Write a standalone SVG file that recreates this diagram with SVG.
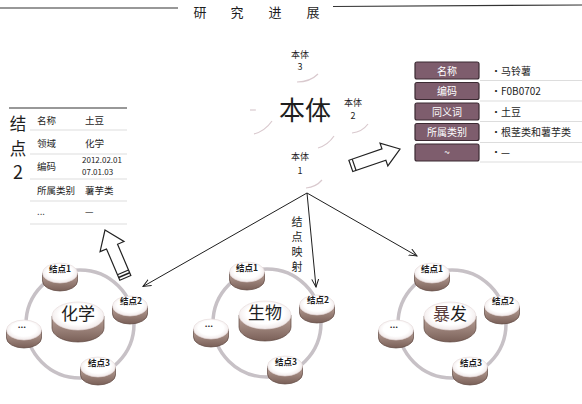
<svg xmlns="http://www.w3.org/2000/svg" xmlns:xlink="http://www.w3.org/1999/xlink" width="582" height="404" viewBox="0 0 582 404">
<style>
text{font-family:"Noto Sans CJK SC","Noto Sans",sans-serif;fill:#1e1e1e}
.t{font-size:13px}
.sm{font-size:9px}
.nl{font-size:8.5px;font-weight:bold;text-anchor:middle}
.big{font-size:17px;text-anchor:middle}
.lab{font-size:10px;fill:#fff;text-anchor:middle}
.val{font-size:10px}
.tb{font-size:9.5px}
.row{stroke:#d4d4d4;stroke-width:0.8}
.faint{fill:none;stroke:#d9c9ce;stroke-width:1.2}
.ring{fill:none;stroke:#c7c1c6;stroke-width:3.5}
.conn{stroke:#1e1e1e;stroke-width:1;fill:none}
.blk{fill:#fff;stroke:#222;stroke-width:1.2;stroke-linejoin:miter}
.box{fill:#7e5d6d;stroke:#3b2a32;stroke-width:1.2}
</style>
<defs>
<radialGradient id="topG" cx="0.5" cy="0.45" r="0.6">
<stop offset="0.6" stop-color="#ffffff"/>
<stop offset="1" stop-color="#ece2e2"/>
</radialGradient>
<linearGradient id="sideG" x1="0" y1="0" x2="0" y2="1">
<stop offset="0" stop-color="#bba39a"/>
<stop offset="1" stop-color="#7a6058"/>
</linearGradient>
<g id="smallDisk">
<path d="M-17.5,0 L-17.5,8 A17.5 10 0 0 0 17.5,8 L17.5,0 Z" fill="url(#sideG)" stroke="#5e4840" stroke-width="0.7"/>
<ellipse cx="0" cy="0" rx="17.5" ry="10" fill="url(#topG)" stroke="#e4d8d8" stroke-width="0.6"/>
</g>
<g id="bigDisk">
<path d="M-26,0 L-26,12 A26 14 0 0 0 26,12 L26,0 Z" fill="url(#sideG)" stroke="#5e4840" stroke-width="0.7"/>
<ellipse cx="0" cy="0" rx="26" ry="14" fill="url(#topG)" stroke="#e4d8d8" stroke-width="0.6"/>
</g>
<marker id="arr" markerWidth="9" markerHeight="8" refX="8" refY="4" orient="auto" markerUnits="userSpaceOnUse">
<path d="M0,0.5 L8,4 L0,7.5" fill="none" stroke="#1e1e1e" stroke-width="1"/>
</marker>
</defs>
<rect width="582" height="404" fill="#ffffff"/>

<g id="title">
<line x1="0" y1="8" x2="178" y2="8" stroke="#333" stroke-width="1.2"/>
<line x1="333" y1="6.5" x2="582" y2="5" stroke="#333" stroke-width="1.2"/>
<text class="t" x="200" y="17" text-anchor="middle">研</text>
<text class="t" x="237" y="17" text-anchor="middle">究</text>
<text class="t" x="275" y="17" text-anchor="middle">进</text>
<text class="t" x="313" y="17" text-anchor="middle">展</text>
</g>

<g id="ontology">
<path class="faint" d="M297 82 Q310 82 318 74"/>
<path class="faint" d="M250 110 L256 110"/>
<path class="faint" d="M254 134 Q265 131 272 121"/>
<path class="faint" d="M318 148 Q328 145 334 136"/>
<path class="faint" d="M352 133 Q362 132 368 124"/>
<path class="faint" d="M306 188 Q316 187 322 180"/>
<text x="300" y="58" class="sm" text-anchor="middle">本体</text>
<text x="300" y="70" class="sm" text-anchor="middle">3</text>
<text x="305" y="120" font-size="26" text-anchor="middle">本体</text>
<text x="353" y="106" class="sm" text-anchor="middle">本体</text>
<text x="353" y="119" class="sm" text-anchor="middle">2</text>
<text x="300" y="160" class="sm" text-anchor="middle">本体</text>
<text x="300" y="174" class="sm" text-anchor="middle">1</text>
</g>

<g id="attr-table">
<line x1="480" y1="80.5" x2="582" y2="80.5" class="row"/>
<line x1="480" y1="101" x2="582" y2="101" class="row"/>
<line x1="480" y1="121.5" x2="582" y2="121.5" class="row"/>
<line x1="480" y1="142.5" x2="582" y2="142.5" class="row"/>
<line x1="480" y1="162" x2="582" y2="162" class="row"/>
<rect class="box" x="415" y="62" width="64" height="17" rx="2"/>
<rect class="box" x="415" y="82.5" width="64" height="17" rx="2"/>
<rect class="box" x="415" y="103" width="64" height="17" rx="2"/>
<rect class="box" x="415" y="123.5" width="64" height="17" rx="2"/>
<rect class="box" x="415" y="144" width="64" height="17" rx="2"/>
<text class="lab" x="447" y="74.5">名称</text>
<text class="lab" x="447" y="95">编码</text>
<text class="lab" x="447" y="115.5">同义词</text>
<text class="lab" x="447" y="136">所属类别</text>
<text class="lab" x="447" y="156">~</text>
<text class="val" x="491" y="74.5">•马铃薯</text>
<text class="val" x="491" y="95">•F0B0702</text>
<text class="val" x="491" y="115.5">•土豆</text>
<text class="val" x="491" y="136">•根茎类和薯芋类</text>
<text class="val" x="491" y="156">•—</text>
</g>

<g id="node2-table">
<line x1="9" y1="108" x2="127" y2="108" stroke="#333" stroke-width="1.2"/>
<line x1="30" y1="130" x2="127" y2="130" class="row"/>
<line x1="30" y1="154" x2="127" y2="154" class="row"/>
<line x1="30" y1="179" x2="127" y2="179" class="row"/>
<line x1="30" y1="201" x2="127" y2="201" class="row"/>
<line x1="30" y1="224" x2="127" y2="224" class="row"/>
<text font-size="16.5" text-anchor="middle"><tspan x="18" y="130">结</tspan><tspan x="18" y="154.5">点</tspan><tspan x="18" y="179" font-size="18">2</tspan></text>
<text class="tb" x="37" y="124">名称</text>
<text class="tb" x="85" y="124">土豆</text>
<text class="tb" x="37" y="147">领域</text>
<text class="tb" x="85" y="147">化学</text>
<text class="tb" x="37" y="170">编码</text>
<text x="82" y="163" font-size="8">2012.02.01</text>
<text x="82" y="175" font-size="8">07.01.03</text>
<text class="tb" x="37" y="194">所属类别</text>
<text class="tb" x="85" y="194">薯芋类</text>
<text class="tb" x="37" y="215">...</text>
<text class="tb" x="85" y="215">—</text>
</g>

<g id="block-arrows">
<g transform="translate(105,230) rotate(-23)">
<polygon class="blk" points="0,0 13,18 6,18 6,52 -6,52 -6,18 -13,18"/>
<line x1="-6" y1="46" x2="6" y2="46" stroke="#222" stroke-width="1.2"/>
<line x1="-6" y1="49" x2="6" y2="49" stroke="#222" stroke-width="1.5"/>
</g>
<g transform="translate(400,149) rotate(-19)">
<polygon class="blk" points="0,0 -17,-12 -17,-6 -52,-6 -52,6 -17,6 -17,12"/>
<line x1="-48.5" y1="-6" x2="-48.5" y2="6" stroke="#222" stroke-width="1.2"/>
</g>
</g>

<g id="connectors">
<line class="conn" x1="307" y1="193" x2="143" y2="286.5" marker-end="url(#arr)"/>
<line class="conn" x1="307" y1="193" x2="316" y2="287" marker-end="url(#arr)"/>
<line class="conn" x1="307" y1="193" x2="417" y2="256" marker-end="url(#arr)"/>
<text font-size="11" text-anchor="middle"><tspan x="297" y="226">结</tspan><tspan x="297" y="241">点</tspan><tspan x="297" y="256">映</tspan><tspan x="297" y="271">射</tspan></text>
</g>

<g id="cluster-chemistry">
<circle class="ring" cx="80" cy="324" r="54"/>
<use xlink:href="#bigDisk" x="78" y="316"/>
<text class="big" x="78" y="320">化学</text>
<g id="chem-n1"><use xlink:href="#smallDisk" x="60" y="273"/><text class="nl" x="60" y="272">结点1</text></g>
<g id="chem-n2"><use xlink:href="#smallDisk" x="130" y="306"/><text class="nl" x="131" y="304">结点2</text></g>
<g id="chem-n3"><use xlink:href="#smallDisk" x="98" y="367"/><text class="nl" x="99" y="366">结点3</text></g>
<g id="chem-n4"><use xlink:href="#smallDisk" x="24" y="330"/><text class="nl" x="22" y="328">...</text></g>
</g>

<g id="cluster-biology" transform="translate(187,-1)">
<circle class="ring" cx="80" cy="324" r="54"/>
<use xlink:href="#bigDisk" x="78" y="316"/>
<text class="big" x="78" y="320">生物</text>
<g id="bio-n1"><use xlink:href="#smallDisk" x="60" y="273"/><text class="nl" x="60" y="272">结点1</text></g>
<g id="bio-n2"><use xlink:href="#smallDisk" x="130" y="306"/><text class="nl" x="131" y="304">结点2</text></g>
<g id="bio-n3"><use xlink:href="#smallDisk" x="98" y="367"/><text class="nl" x="99" y="366">结点3</text></g>
<g id="bio-n4"><use xlink:href="#smallDisk" x="24" y="330"/><text class="nl" x="22" y="328">...</text></g>
</g>

<g id="cluster-outbreak" transform="translate(372,0)">
<circle class="ring" cx="80" cy="324" r="54"/>
<use xlink:href="#bigDisk" x="78" y="316"/>
<text class="big" x="78" y="320"><tspan fill="#5a3c3c">暴</tspan>发</text>
<g id="ob-n1"><use xlink:href="#smallDisk" x="60" y="273"/><text class="nl" x="60" y="272">结点1</text></g>
<g id="ob-n2"><use xlink:href="#smallDisk" x="130" y="306"/><text class="nl" x="131" y="304">结点2</text></g>
<g id="ob-n3"><use xlink:href="#smallDisk" x="98" y="367"/><text class="nl" x="99" y="366">结点3</text></g>
<g id="ob-n4"><use xlink:href="#smallDisk" x="24" y="330"/><text class="nl" x="22" y="328">...</text></g>
</g>
</svg>
